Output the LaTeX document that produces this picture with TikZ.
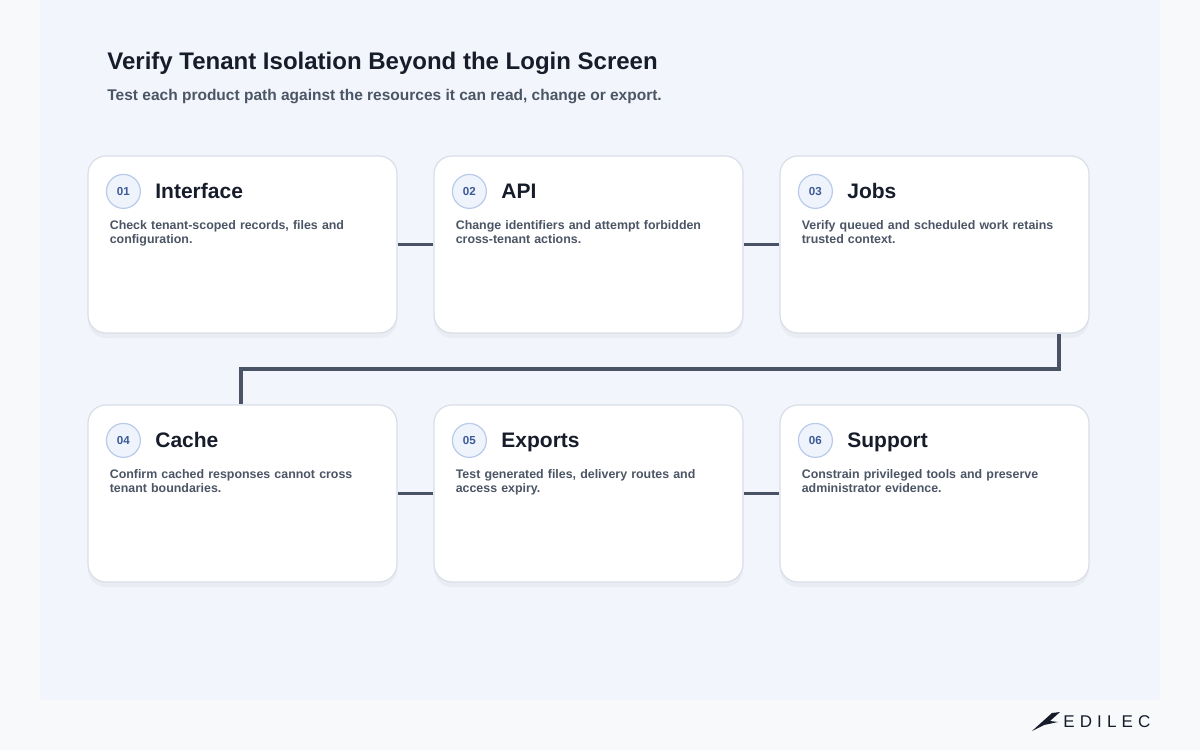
\documentclass[tikz,border=0pt]{standalone}
\usepackage{fontspec}
\setmainfont{Liberation Sans}
\usetikzlibrary{positioning,shadows}
\definecolor{pagebg}{HTML}{F8F9FB}
\definecolor{panelbg}{HTML}{F2F5FB}
\definecolor{ink}{HTML}{161C2A}
\definecolor{slate}{HTML}{4B5565}
\definecolor{wire}{HTML}{4A5366}
\definecolor{edge}{HTML}{D9DEE7}
\definecolor{badgefill}{HTML}{EEF3FC}
\definecolor{badgeline}{HTML}{B9CBEA}
\definecolor{badgeink}{HTML}{3D5A96}
\tikzset{
  card/.style={draw=edge, line width=0.6pt, fill=white, rounded corners=9pt,
    minimum width=154.5pt, minimum height=88.5pt, inner sep=0pt,
    drop shadow={shadow xshift=0pt, shadow yshift=-2.5pt, opacity=0.05, fill=slate}},
  badge/.style={circle, draw=badgeline, line width=0.6pt, fill=badgefill,
    minimum size=17pt, inner sep=0pt, font=\fontsize{5.8}{6}\selectfont\bfseries, text=badgeink},
  head/.style={anchor=base west, inner sep=0pt, font=\fontsize{10.5}{12}\selectfont\bfseries, text=ink},
  blurb/.style={anchor=north west, align=left, text width=128pt, inner sep=0pt,
    font=\fontsize{6.2}{7}\selectfont\bfseries, text=slate,
    execute at begin node={\hyphenpenalty=10000\exhyphenpenalty=10000\relax}},
  wire/.style={draw=wire, line width=1.6pt}
}
\newcommand{\stepcard}[6]{% name, x, y, number, title, text
  \node[card] (#1) at (#2,#3) {};
  \node[badge] (#1n) at ([xshift=18pt,yshift=-18pt]#1.north west) {#4};
  \node[head] (#1t) at ([xshift=7pt,yshift=-3.7pt]#1n.east) {#5};
  \node[blurb] (#1d) at ([xshift=11pt,yshift=-32.5pt]#1.north west) {#6};
}
\begin{document}
\begin{tikzpicture}[x=0.5pt,y=-0.5pt]
	\useasboundingbox (0,0) rectangle (1200,750);
	\fill[pagebg] (0,0) rectangle (1200,750);
	\fill[panelbg] (40,0) rectangle (1160,700);
	
	\node[anchor=west, inner sep=0pt, font=\fontsize{12}{14}\selectfont\bfseries, text=ink]
	(title) at (107,63) {Verify Tenant Isolation Beyond the Login Screen};
	\node[anchor=west, inner sep=0pt, font=\fontsize{7.75}{9}\selectfont\bfseries, text=slate]
	(subtitle) at (107,97) {Test each product path against the resources it can read, change or export.};
	
	% bends of the row-to-row connector
	\coordinate (bendA) at (1059,369);
	\coordinate (bendB) at (241,369);
	
	\stepcard{iface}{242.5}{244.5}{01}{Interface}{Check tenant-scoped records, files and configuration.}
	\stepcard{api}{588.5}{244.5}{02}{API}{Change identifiers and attempt forbidden cross-tenant actions.}
	\stepcard{jobs}{934.5}{244.5}{03}{Jobs}{Verify queued and scheduled work retains trusted context.}
	\stepcard{cache}{242.5}{493.5}{04}{Cache}{Confirm cached responses cannot cross tenant boundaries.}
	\stepcard{exports}{588.5}{493.5}{05}{Exports}{Test generated files, delivery routes and access expiry.}
	\stepcard{support}{934.5}{493.5}{06}{Support}{Constrain privileged tools and preserve administrator evidence.}
	
	\draw[wire] (iface.east) -- (api.west);
	\draw[wire] (api.east) -- (jobs.west);
	\draw[wire] (jobs.south -| bendA) -- (bendA) -- (bendB) -- (cache.north -| bendB);
	\draw[wire] (cache.east) -- (exports.west);
	\draw[wire] (exports.east) -- (support.west);
	
	% logo
	\fill[ink] (1032,731) -- (1052,713) -- (1060,712) -- (1050,721) -- (1058,722) -- (1044,725) -- cycle;
	\node[anchor=west, inner sep=0pt, font=\fontsize{8.5}{10}\selectfont\addfontfeature{LetterSpace=30}, text=ink]
	(logo) at (1063,722) {EDILEC};
\end{tikzpicture}
\end{document}
